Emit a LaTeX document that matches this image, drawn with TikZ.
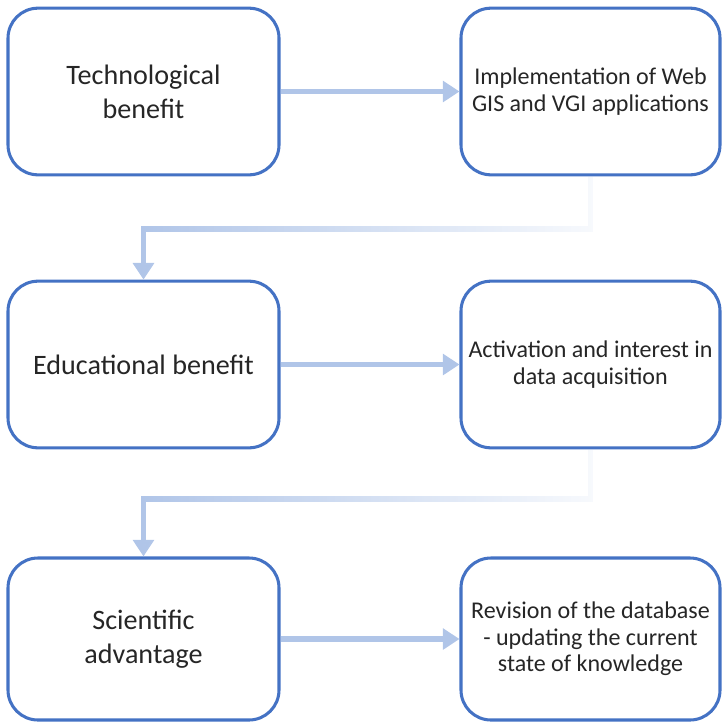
\documentclass[tikz,border=0pt]{standalone}
\usepackage{fontspec}
\setmainfont{Carlito}
\usetikzlibrary{arrows.meta,fadings}

\definecolor{boxblue}{RGB}{68,114,196}
\definecolor{flowblue}{RGB}{176,197,232}
\definecolor{inkgray}{RGB}{38,38,38}

\tikzfading[name=fadeoff, left color=transparent!0, right color=transparent!90]

\tikzset{
  benefit/.style={draw=boxblue, line width=2.6pt, rounded corners=0.9cm, fill=white,
    minimum width=8.13cm, minimum height=5.0cm, align=center, text=inkgray,
    font=\fontsize{24}{29}\selectfont},
  outcome/.style={benefit, minimum width=7.77cm, font=\fontsize{20.5}{22.5}\selectfont},
  flowright/.style={draw=flowblue, line width=5pt, -{Triangle[length=0.5cm,width=0.62cm]}},
  flowdown/.style={flowright, path fading=fadeoff},
}

\begin{document}
\begin{tikzpicture}[x=0.03cm, y=-0.03cm]
  \useasboundingbox (0,0) rectangle (723,722);

  % left column: kinds of benefit
  \node[benefit] (tech) at (143.5,91.5) {Technological\\benefit};
  \node[benefit] (edu) at (143.5,364.5) {Educational benefit};
  \node[benefit, minimum height=4.86cm] (sci) at (143.5,639) {Scientific\\advantage};

  % right column: what each one brings
  \node[outcome] (webgis) at (590.5,91.5) {Implementation of Web\\GIS and VGI applications};
  \node[outcome] (acq) at (590.5,364.5) {Activation and interest in\\data acquisition};
  \node[outcome, minimum height=4.86cm] (rev) at (590.5,639) {Revision of the database\\- updating the current\\state of knowledge};

  % row arrows
  \draw[flowright] (tech) -- (webgis);
  \draw[flowright] (edu) -- (acq);
  \draw[flowright] (sci) -- (rev);

  % faded elbows down to the next row
  \draw[flowdown] (webgis.south) -- ++(0,53) -| (edu.north);
  \draw[flowdown] (acq.south) -- ++(0,50) -| (sci.north);
\end{tikzpicture}
\end{document}
